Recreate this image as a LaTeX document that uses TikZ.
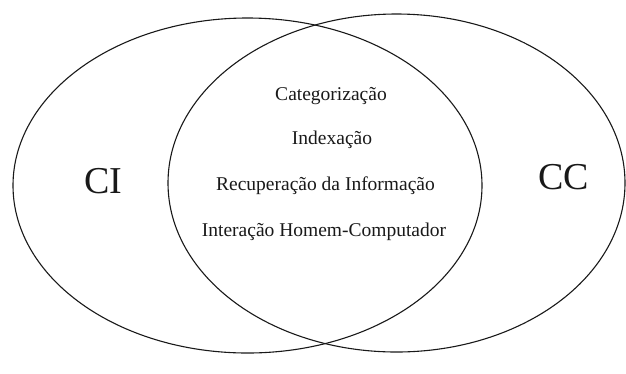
\documentclass[tikz,border=0pt]{standalone}
\usepackage{fontspec}
\setmainfont{Liberation Serif}
\newfontfamily\tmsfont{Liberation Serif}
\begin{document}
\begin{tikzpicture}[x=1pt,y=-1pt,
  ring/.style={draw=black!90,line width=1.1pt},
  inner/.style={font=\tmsfont\fontsize{19.5}{22}\selectfont,anchor=base,inner sep=0pt,text=black!90},
  big/.style={font=\tmsfont\fontsize{38}{42}\selectfont,anchor=base,inner sep=0pt,text=black!90}]
\useasboundingbox (0,0) rectangle (626,373);
\draw[ring] (247.5,185.5) ellipse [x radius=234.5, y radius=167.5];
\draw[ring] (396.5,183) ellipse [x radius=228.5, y radius=169];
\node[big] (ci) at (103.5,193) {CI};
\node[big] (cc) at (563.5,189) {CC};
\node[inner] (t1) at (331,100) {Categorização};
\node[inner] (t2) at (332,144) {Indexação};
\node[inner] (t3) at (325.5,190) {Recuperação da Informação};
\node[inner] (t4) at (324,236) {Interação Homem-Computador};
\end{tikzpicture}
\end{document}
